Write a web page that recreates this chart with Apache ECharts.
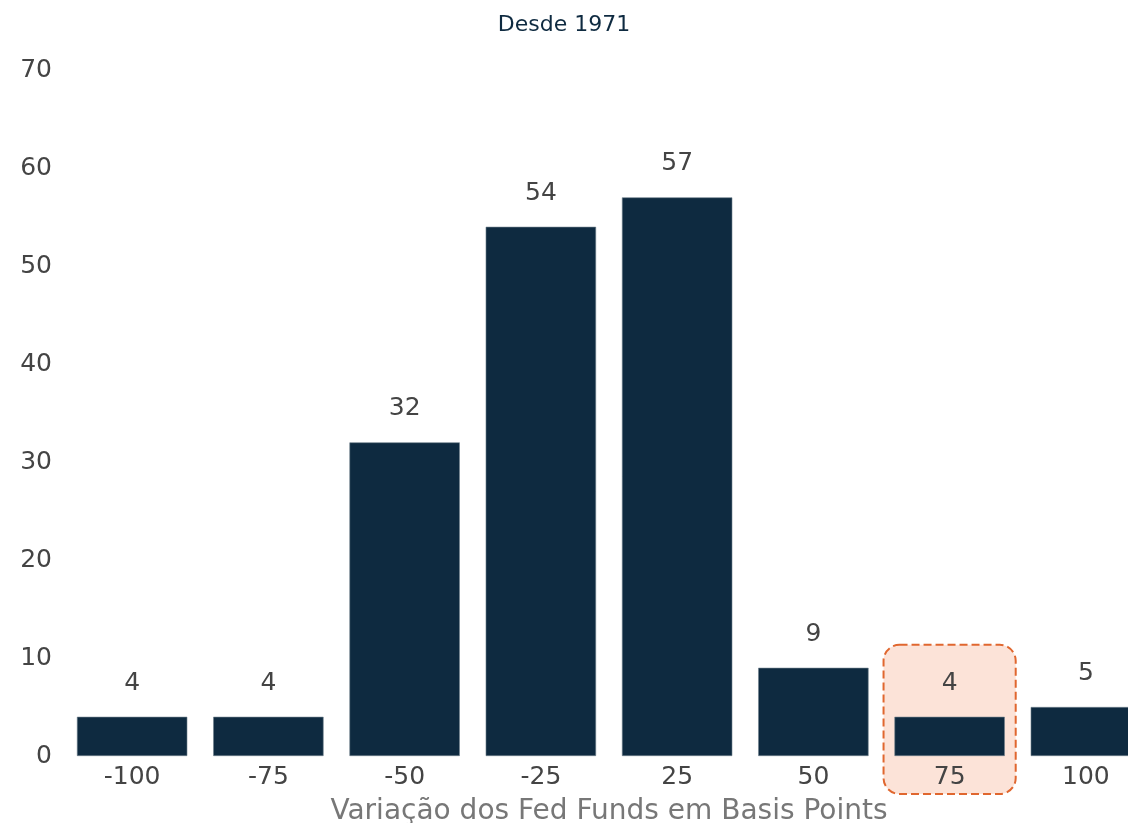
<!DOCTYPE html>
<html><head><meta charset="utf-8">
<script src="https://cdn.jsdelivr.net/npm/echarts@6/dist/echarts.min.js"></script>
<style>html,body{margin:0;padding:0;background:#fff}#c{width:1128px;height:823px}</style>
</head><body><div id="c"></div>
<script>
const categories = ['-100','-75','-50','-25','25','50','75','100'];
const counts = [4, 4, 32, 54, 57, 9, 4, 5];
const yTicks = [0, 10, 20, 30, 40, 50, 60, 70];
const highlightCategory = '75';
const titleText = 'Desde 1971';
const xAxisName = 'Variação dos Fed Funds em Basis Points';

const FONT = '"DejaVu Sans", sans-serif';
const chart = echarts.init(document.getElementById('c'));
chart.setOption({
  animation: false,
  title: { text: titleText, left: 'center', top: 9,
    textStyle: { fontFamily: FONT, fontSize: 22, fontWeight: 'normal', color: '#0E2A40' } },
  grid: { left: 64, width: 1090, top: 70, height: 686, containLabel: false, outerBoundsMode: 'none' },
  xAxis: {
    type: 'category', data: categories,
    name: xAxisName, nameLocation: 'middle', nameGap: 42,
    nameTextStyle: { fontFamily: FONT, fontSize: 28, color: '#777' },
    axisLine: { show: false }, axisTick: { show: false },
    axisLabel: { fontFamily: FONT, fontSize: 25, color: '#444', margin: 9 }
  },
  yAxis: {
    type: 'value', min: yTicks[0], max: yTicks[yTicks.length - 1], interval: 10,
    splitLine: { show: false }, axisLine: { show: false }, axisTick: { show: false },
    axisLabel: { fontFamily: FONT, fontSize: 25, color: '#444', margin: 12 }
  },
  series: [{
    type: 'bar', data: counts, barCategoryGap: '19%', z: 3,
    itemStyle: { color: '#0E2A40', borderColor: '#6f7f8c', borderWidth: 0.6 },
    label: { show: true, position: 'top', distance: 21,
      fontFamily: FONT, fontSize: 25, color: '#444' }
  }]
});

const idx = categories.indexOf(highlightCategory);
const cx = chart.convertToPixel({ xAxisIndex: 0 }, idx);
const band = chart.convertToPixel({ xAxisIndex: 0 }, 1) - chart.convertToPixel({ xAxisIndex: 0 }, 0);
const yTop = chart.convertToPixel({ yAxisIndex: 0 }, counts[idx]) - 72;
const yBot = chart.convertToPixel({ yAxisIndex: 0 }, 0) + 38;
const w = band * 0.97;
chart.setOption({
  graphic: [{
    type: 'rect', z: 0,
    shape: { x: cx - w / 2, y: yTop, width: w, height: yBot - yTop, r: 16 },
    style: { fill: '#FCE3D8', stroke: '#E0672F', lineWidth: 2, lineDash: [8, 4] }
  }]
});
</script></body></html>
